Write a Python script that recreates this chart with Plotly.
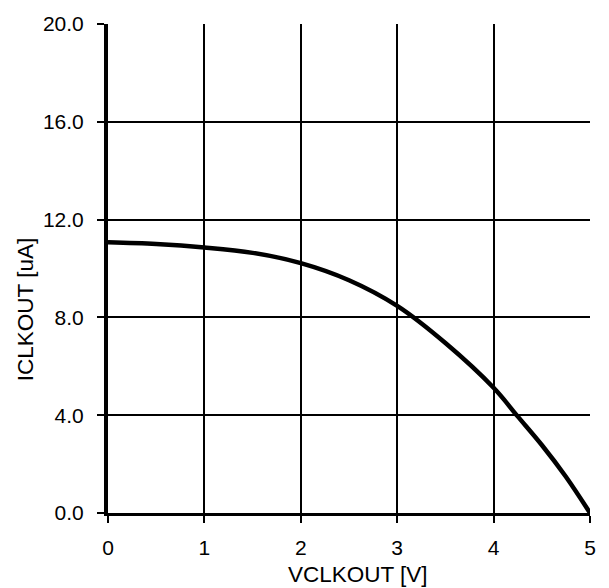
import plotly.graph_objects as go

vclkout = [0, 0.5, 1, 1.5, 2, 2.5, 3, 3.5, 4, 4.25, 4.5, 4.75, 5]
iclkout = [11.07, 11.0, 10.86, 10.64, 10.22, 9.52, 8.47, 6.95, 5.12, 3.95, 2.78, 1.48, 0.0]

x_ticks = [0, 1, 2, 3, 4, 5]
y_ticks = [0, 4, 8, 12, 16, 20]
x_title = "VCLKOUT [V]"
y_title = "ICLKOUT [uA]"

font = "Liberation Sans, Arial, sans-serif"

fig = go.Figure()
fig.add_trace(go.Scatter(x=vclkout, y=iclkout, mode="lines",
                         line=dict(color="black", width=4.5, shape="spline", smoothing=1.0),
                         showlegend=False, hoverinfo="skip"))

fig.update_layout(
    width=609, height=588,
    margin=dict(l=108, r=19, t=19, b=75),
    paper_bgcolor="white", plot_bgcolor="white",
    font=dict(family=font, size=21, color="black"),
    xaxis=dict(range=[0, 5], tickvals=x_ticks, ticktext=[str(v) for v in x_ticks],
               showgrid=True, gridcolor="black", gridwidth=2,
               zeroline=False, showline=True, linecolor="black", linewidth=2.5,
               ticks="outside", ticklen=7, tickwidth=2, tickcolor="black",
               ticklabelstandoff=7),
    yaxis=dict(range=[0, 20], tickvals=y_ticks, ticktext=[f"{v:.1f}" for v in y_ticks],
               showgrid=True, gridcolor="black", gridwidth=2,
               zeroline=False, showline=True, linecolor="black", linewidth=4,
               ticks="outside", ticklen=7, tickwidth=2, tickcolor="black",
               ticklabelstandoff=9),
    annotations=[
        dict(text=x_title, xref="paper", yref="paper", x=0.519, y=-0.126,
             xanchor="center", yanchor="middle", showarrow=False,
             font=dict(size=22.5)),
        dict(text=y_title, xref="paper", yref="paper", x=-0.172, y=0.415,
             xanchor="center", yanchor="middle", showarrow=False, textangle=-90,
             font=dict(size=22.5)),
    ],
)

fig.write_html("out.html", config={"displayModeBar": False},
               post_script="document.body.style.margin='0';")
